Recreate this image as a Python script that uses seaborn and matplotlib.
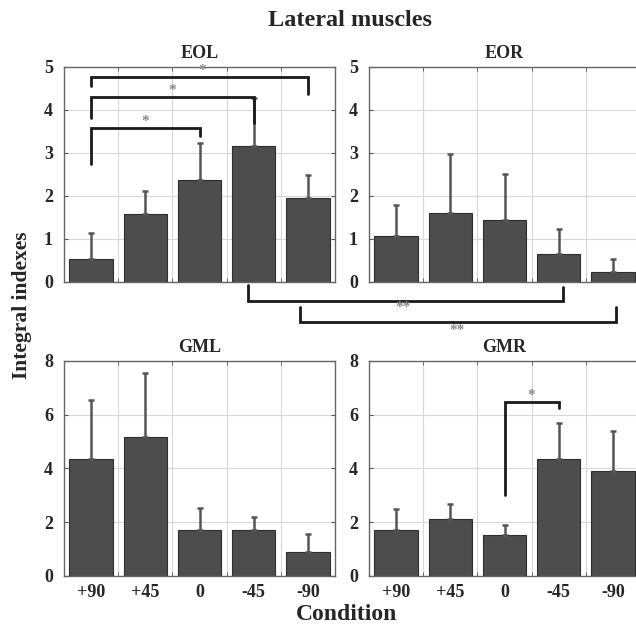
import numpy as np
import pandas as pd
import seaborn as sns
import matplotlib.pyplot as plt

conditions = ['+90', '+45', '0', '-45', '-90']

eol_mean = [0.54, 1.57, 2.38, 3.16, 1.96]
eol_upper = [1.14, 2.12, 3.22, 4.28, 2.48]
eor_mean = [1.06, 1.60, 1.43, 0.64, 0.24]
eor_upper = [1.78, 2.97, 2.50, 1.24, 0.53]
gml_mean = [4.36, 5.15, 1.71, 1.71, 0.90]
gml_upper = [6.54, 7.55, 2.53, 2.19, 1.57]
gmr_mean = [1.72, 2.12, 1.54, 4.33, 3.91]
gmr_upper = [2.48, 2.69, 1.88, 5.70, 5.39]

sns.set_style('white')
plt.rcParams['font.family'] = ['Liberation Serif', 'DejaVu Serif']
plt.rcParams['font.weight'] = 'bold'

W, H = 636, 626
fig = plt.figure(figsize=(W / 100, H / 100), dpi=100)

def px_axes(x0, y0, x1, y1):
    return fig.add_axes([x0 / W, 1 - y1 / H, (x1 - x0) / W, (y1 - y0) / H])

panels = [
    ('EOL', eol_mean, eol_upper, (64, 66.7, 335, 282), 5, 1),
    ('EOR', eor_mean, eor_upper, (369, 66.7, 640, 282), 5, 1),
    ('GML', gml_mean, gml_upper, (64, 360.7, 335, 576), 8, 2),
    ('GMR', gmr_mean, gmr_upper, (369, 360.7, 640, 576), 8, 2),
]

axes = {}
for name, mean, upper, box, ymax, step in panels:
    ax = px_axes(*box)
    df = pd.DataFrame({'Condition': conditions, 'value': mean})
    sns.barplot(data=df, x='Condition', y='value', color='#4d4d4d', width=0.8,
                edgecolor='#2e2e2e', linewidth=0.8, saturation=1, ax=ax, zorder=2)
    err = np.array(upper) - np.array(mean)
    ax.errorbar(range(5), mean, yerr=[np.zeros(5), err], fmt='none',
                ecolor='#555555', elinewidth=1.8, capsize=2.5, capthick=1.8, zorder=3)
    ax.set_xlim(-0.5, 4.5)
    ax.set_ylim(0, ymax)
    ax.set_yticks(np.arange(0, ymax + 0.01, step))
    ax.set_xticks(np.arange(0.5, 4.5, 1), minor=True)
    ax.grid(True, which='minor', axis='x', color='#d8d8d8', linewidth=0.8)
    ax.grid(True, which='major', axis='y', color='#d8d8d8', linewidth=0.8)
    ax.set_axisbelow(True)
    ax.tick_params(axis='x', which='major', length=0, labelsize=13, pad=6)
    ax.tick_params(axis='x', which='minor', length=3, direction='in', top=True,
                   bottom=True, color='#555555')
    ax.tick_params(axis='y', length=3, direction='in', left=True, right=True,
                   labelsize=13, pad=8, color='#555555')
    if name in ('EOL', 'EOR'):
        ax.set_xticklabels([])
    for s in ax.spines.values():
        s.set_color('#666666')
        s.set_linewidth(1.0)
    ax.set_xlabel('')
    ax.set_ylabel('')
    ax.set_title(name, fontsize=13, fontweight='bold', pad=6)
    axes[name] = ax

# brackets inside panels
def bracket(ax, x0, x1, y0, yh, y1, star_x, star='*'):
    ax.plot([x0, x0, x1, x1], [y0, yh, yh, y1], color='#1a1a1a', lw=2, zorder=4,
            solid_joinstyle='miter', clip_on=False)
    ax.text(star_x, yh, star, ha='center', va='bottom', color='#8a8a8a', fontsize=11)

eol = axes['EOL']
bracket(eol, 0, 2, 2.75, 3.58, 3.39, 1.0)
bracket(eol, 0, 3, 3.82, 4.29, 3.70, 1.5)
bracket(eol, 0, 4, 4.55, 4.77, 4.36, 2.05)
bracket(axes['GMR'], 2, 3, 3.0, 6.48, 6.23, 2.5)

# brackets across the top panels (figure pixels)
def fig_bracket(x0, x1, ytop0, ybot, ytop1, star_x, star_y):
    xs = [x0 / W, x0 / W, x1 / W, x1 / W]
    ys = [1 - ytop0 / H, 1 - ybot / H, 1 - ybot / H, 1 - ytop1 / H]
    fig.add_artist(plt.Line2D(xs, ys, color='#1a1a1a', lw=2, solid_joinstyle='miter'))
    fig.text(star_x / W, 1 - star_y / H, '**', ha='center', va='center',
             color='#8a8a8a', fontsize=11)

fig_bracket(248, 563, 285, 301, 287, 403, 308)
fig_bracket(300, 616, 307, 322, 307, 457, 331)

fig.text(350 / W, 1 - 20 / H, 'Lateral muscles', ha='center', va='center',
         fontsize=17.5, fontweight='bold')
fig.text(22 / W, 1 - 305 / H, 'Integral indexes', ha='center', va='center',
         rotation=90, fontsize=15.5, fontweight='bold')
fig.text(347 / W, 1 - 614 / H, 'Condition', ha='center', va='center',
         fontsize=17, fontweight='bold')

fig.savefig('out.png', dpi=100)
